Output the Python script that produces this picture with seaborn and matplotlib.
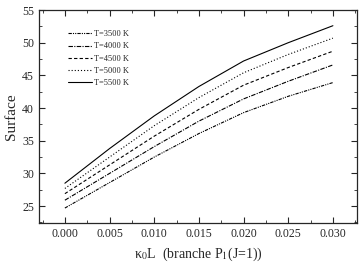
import numpy as np
import pandas as pd
import matplotlib
matplotlib.use("Agg")
import matplotlib.pyplot as plt
from matplotlib.ticker import MultipleLocator
import seaborn as sns

# data
kappa = [0.000, 0.005, 0.010, 0.015, 0.020, 0.025, 0.030]
labels = ["T=3500 K", "T=4000 K", "T=4500 K", "T=5000 K", "T=5500 K"]
s3500 = [24.7, 28.6, 32.5, 36.1, 39.3, 41.8, 43.9]
s4000 = [25.9, 30.0, 34.1, 38.0, 41.4, 44.1, 46.6]
s4500 = [26.9, 31.3, 35.7, 39.8, 43.5, 46.2, 48.7]
s5000 = [27.7, 32.5, 37.3, 41.6, 45.4, 48.2, 50.7]
s5500 = [28.5, 33.8, 38.8, 43.3, 47.2, 50.0, 52.6]

series = [s3500, s4000, s4500, s5000, s5500]
df = pd.DataFrame({
    "kappa": kappa * len(labels),
    "surface": sum(series, []),
    "T": np.repeat(labels, len(kappa)),
})

sns.set_style("ticks")
plt.rcParams["font.family"] = ["Liberation Serif", "DejaVu Serif"]
plt.rcParams["mathtext.fontset"] = "stix"

fig = plt.figure(figsize=(3.61, 2.64), dpi=100)
ax = fig.add_axes([0.108, 0.155, 0.881, 0.807])

dashes = {
    "T=3500 K": (3, 1, 1, 1, 1, 1),
    "T=4000 K": (4, 1.2, 1, 1.2),
    "T=4500 K": (3, 2),
    "T=5000 K": (1, 1.8),
    "T=5500 K": "",
}
palette = {l: "black" for l in labels}
sns.lineplot(data=df, x="kappa", y="surface", hue="T", style="T",
             hue_order=labels, style_order=labels, palette=palette,
             dashes=dashes, linewidth=0.8, ax=ax)

ax.set_xlim(-0.0029, 0.0327)
ax.set_ylim(22.4, 55)
ax.xaxis.set_major_locator(MultipleLocator(0.005))
ax.xaxis.set_minor_locator(MultipleLocator(0.0025))
ax.yaxis.set_major_locator(MultipleLocator(5))
ax.yaxis.set_minor_locator(MultipleLocator(2.5))
ax.xaxis.set_major_formatter(matplotlib.ticker.FormatStrFormatter("%.3f"))
ax.tick_params(which="both", direction="in", top=True, right=True, labelsize=8.5)
ax.tick_params(which="major", length=4, width=0.8)
ax.tick_params(which="minor", length=2, width=0.6)
for sp in ax.spines.values():
    sp.set_linewidth(0.9)

ax.set_xlabel("κ$_0$L  (branche P$_1$(J=1))", fontsize=10, labelpad=4)
ax.set_ylabel("Surface", fontsize=11, labelpad=3)

leg = ax.legend(loc="upper left", bbox_to_anchor=(0.067, 0.94), frameon=False,
                fontsize=6, handlelength=2.9, handletextpad=0.3,
                labelspacing=0.5, title=None)

fig.savefig("out.png", dpi=100)
